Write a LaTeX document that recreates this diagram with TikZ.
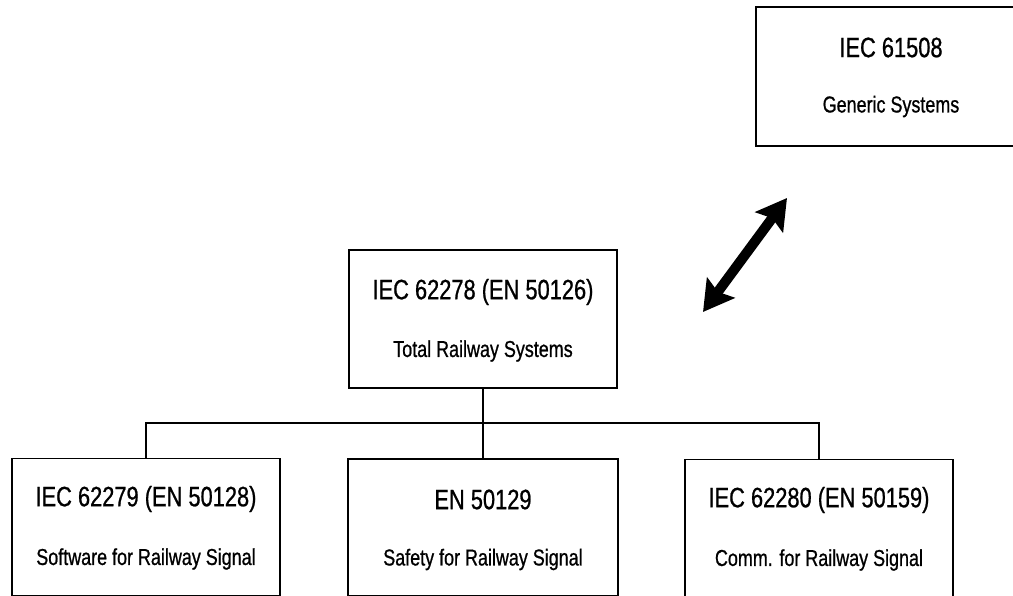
\documentclass[tikz,border=0pt]{standalone}
\usepackage{fontspec}
\setmainfont[FakeStretch=0.78,FakeBold=0.8]{Liberation Sans}
\usetikzlibrary{arrows.meta}
\begin{document}
\begin{tikzpicture}[x=1pt,y=-1pt,
  stdbox/.style={draw, line width=1.9pt, inner sep=0pt, minimum width=268pt, minimum height=137pt},
  titletext/.style={inner sep=0pt, font=\fontsize{28}{32}\selectfont},
  subtext/.style={inner sep=0pt, font=\fontsize{23}{27}\selectfont},
  link/.style={line width=1.9pt},
  bigarrow/.style={line width=10pt, {Stealth[length=30pt,width=34pt,inset=5pt]}-{Stealth[length=30pt,width=34pt,inset=5pt]}}]
\clip (0,0) rectangle (1013,596);
\fill[white] (0,0) rectangle (1013,596);

% standards boxes
\node[stdbox, minimum width=270pt, minimum height=139pt] (gen) at (891,76.5) {};
\node[stdbox, minimum height=138pt] (total) at (483,319) {};
\node[stdbox] (sw) at (146,527) {};
\node[stdbox, minimum width=270pt] (safe) at (483,527.5) {};
\node[stdbox] (comm) at (819,528) {};

% box labels (yshift is in page units: positive moves up)
\node[titletext] (genA) at ([yshift=29pt]gen.center) {IEC 61508};
\node[subtext] (genB) at ([yshift=-30pt]gen.center) {Generic Systems};
\node[titletext] (totalA) at ([yshift=27pt]total.center) {IEC 62278 (EN 50126)};
\node[subtext] (totalB) at ([yshift=-32pt]total.center) {Total Railway Systems};
\node[titletext] (swA) at ([yshift=28pt]sw.center) {IEC 62279 (EN 50128)};
\node[subtext] (swB) at ([yshift=-32pt]sw.center) {Software for Railway Signal};
\node[titletext] (safeA) at ([yshift=28pt]safe.center) {EN 50129};
\node[subtext] (safeB) at ([yshift=-32pt]safe.center) {Safety for Railway Signal};
\node[titletext] (commA) at ([yshift=28pt]comm.center) {IEC 62280 (EN 50159)};
\node[subtext] (commB) at ([yshift=-32pt]comm.center) {Comm. for Railway Signal};

% tree connectors
\coordinate (bus) at (483,423);
\draw[link] (total.south) -- (bus);
\draw[link] (bus) -| (sw.north);
\draw[link] (bus) -| (comm.north);
\draw[link] (bus) -- (safe.north);

% two-way relation to the generic standard
\coordinate (arrA) at (703,312);
\coordinate (arrB) at (787,198);
\draw[bigarrow] (arrA) -- (arrB);
\end{tikzpicture}
\end{document}
